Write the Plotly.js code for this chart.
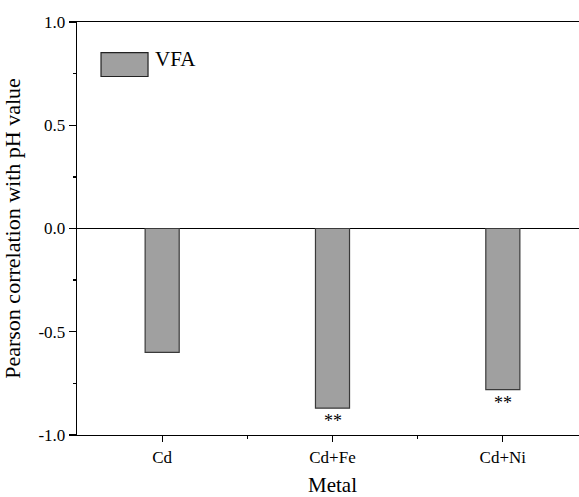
<!DOCTYPE html>
<html>
<head>
<meta charset="utf-8">
<script src="https://cdn.plot.ly/plotly-3.0.1.min.js"></script>
<style>
html,body{margin:0;padding:0;overflow:hidden;background:#fff;}
#chart{width:600px;height:497px;}
</style>
</head>
<body>
<div id="chart"></div>
<script>
const categories = ['Cd', 'Cd+Fe', 'Cd+Ni'];
const vfaValues = [-0.60, -0.87, -0.78];
const significance = ['', '**', '**'];
const seriesName = 'VFA';
const yTickVals = [-1, -0.5, 0, 0.5, 1];
const yTickText = ['-1.0', '-0.5', '0.0', '0.5', '1.0'];

const xPos = categories.map((c, i) => i);
const FONT = '"Times New Roman", "Liberation Serif", serif';

const trace = {
  type: 'bar',
  name: seriesName,
  x: xPos,
  y: vfaValues,
  width: 0.2,
  marker: {color: '#a0a0a0', line: {color: '#3a3a3a', width: 1.2}},
  showlegend: false,
  hoverinfo: 'x+y'
};

const annotations = significance.map((s, i) => ({
  x: xPos[i], y: vfaValues[i], xref: 'x', yref: 'y',
  text: s, showarrow: false, yanchor: 'top', yshift: -1,
  font: {family: FONT, size: 18, color: '#000'}
})).filter(a => a.text);

annotations.push({
  xref: 'paper', yref: 'paper', x: 0.148, y: 0.91,
  xanchor: 'left', yanchor: 'middle', text: seriesName, showarrow: false,
  font: {family: FONT, size: 21, color: '#000'}
});

const layout = {
  width: 600, height: 497,
  margin: {l: 77, r: 12, t: 22, b: 62},
  paper_bgcolor: '#fff', plot_bgcolor: '#fff',
  font: {family: FONT, color: '#000'},
  xaxis: {
    range: [-0.5, 2.5],
    tickmode: 'array', tickvals: xPos, ticktext: categories,
    ticks: 'outside', ticklen: 6, tickwidth: 1.3, tickcolor: '#000',
    minor: {tickmode: 'array', tickvals: [0.5, 1.5], ticks: 'outside', ticklen: 3, tickwidth: 1.3, tickcolor: '#000'},
    showline: true, linecolor: '#000', linewidth: 1.3, mirror: true,
    showgrid: false, zeroline: false,
    tickfont: {family: FONT, size: 17, color: '#000'},
    title: {text: 'Metal', font: {family: FONT, size: 21, color: '#000'}, standoff: 20}
  },
  yaxis: {
    range: [-1, 1],
    tickmode: 'array', tickvals: yTickVals, ticktext: yTickText,
    ticks: 'outside', ticklen: 7, tickwidth: 1.3, tickcolor: '#000',
    minor: {tickmode: 'array', tickvals: [-0.75, -0.25, 0.25, 0.75], ticks: 'outside', ticklen: 3, tickwidth: 1.3, tickcolor: '#000'},
    showline: true, linecolor: '#000', linewidth: 1.3, mirror: true,
    showgrid: false,
    zeroline: true, zerolinecolor: '#000', zerolinewidth: 1.6,
    tickfont: {family: FONT, size: 17, color: '#000'},
    title: {text: 'Pearson correlation with pH value', font: {family: FONT, size: 22, color: '#000'}, standoff: 12}
  },
  shapes: [{
    type: 'rect', xref: 'paper', yref: 'paper',
    x0: 0.047, x1: 0.139, y0: 0.868, y1: 0.926,
    fillcolor: '#a0a0a0', line: {color: '#222', width: 1.2}
  }],
  annotations: annotations,
  showlegend: false
};

Plotly.newPlot('chart', [trace], layout, {displayModeBar: false, staticPlot: true});
</script>
</body>
</html>
